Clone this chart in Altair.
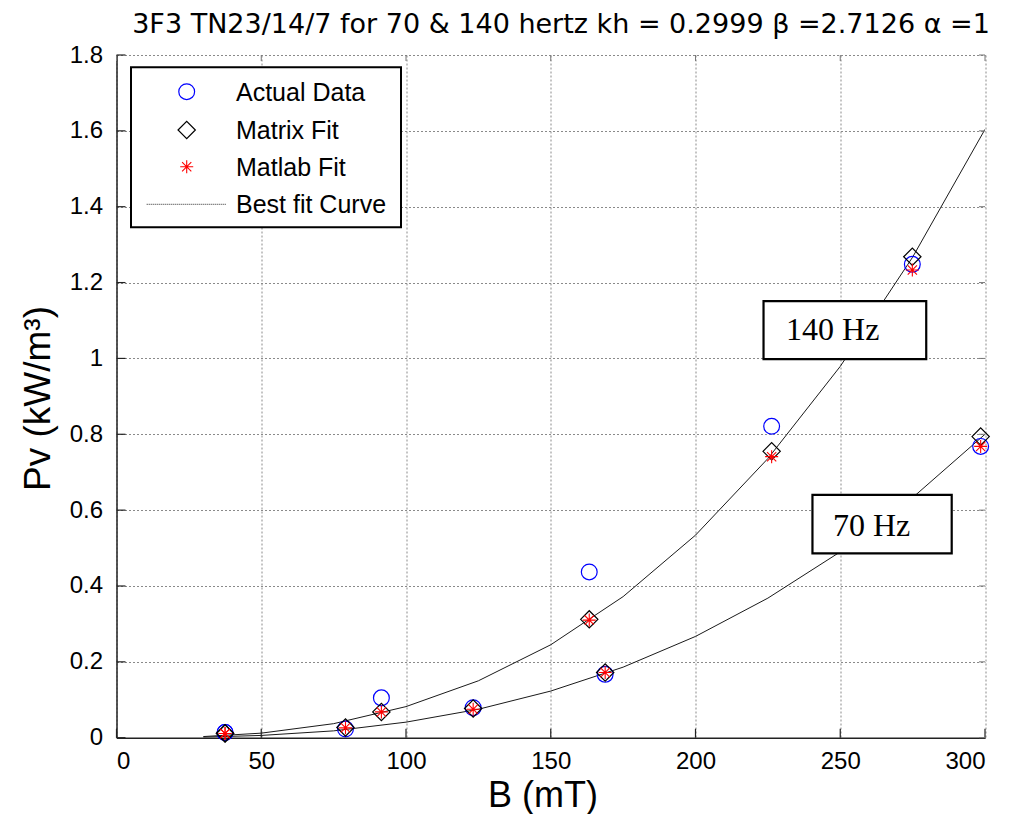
import altair as alt
import pandas as pd

# ---------------- data ----------------
title_text = "3F3 TN23/14/7 for 70 & 140 hertz kh = 0.2999 \u03b2 =2.7126 \u03b1 =1"
x_title = "B (mT)"
y_title = "Pv (kW/m\u00b3)"

# 70 Hz measurements
B_70 = [37.5, 79.1, 123.2, 168.8, 298.5]
actual_70 = [0.014, 0.023, 0.079, 0.167, 0.768]
matrix_70 = [0.011, 0.027, 0.077, 0.172, 0.794]
matlab_70 = [0.011, 0.026, 0.075, 0.172, 0.768]

# 140 Hz measurements
B_140 = [37.5, 91.5, 163.3, 226.3, 274.9]
actual_140 = [0.014, 0.105, 0.437, 0.821, 1.248]
matrix_140 = [0.012, 0.068, 0.312, 0.755, 1.268]
matlab_140 = [0.011, 0.068, 0.310, 0.741, 1.233]

# best-fit curves
curve_B = [30, 50, 75, 100, 125, 150, 175, 200, 225, 250, 275, 300]
curve_140 = [0.003, 0.012, 0.037, 0.082, 0.150, 0.245, 0.372, 0.534, 0.736, 0.979, 1.267, 1.604]
curve_70 = [0.0015, 0.006, 0.018, 0.041, 0.075, 0.123, 0.186, 0.267, 0.368, 0.490, 0.633, 0.800]

x_ticks = [0, 50, 100, 150, 200, 250, 300]
y_ticks = [0, 0.2, 0.4, 0.6, 0.8, 1.0, 1.2, 1.4, 1.6, 1.8]

legend_labels = ["Actual Data", "Matrix Fit", "Matlab Fit", "Best fit Curve"]
annot_labels = ["140 Hz", "70 Hz"]

# ---------------- tables ----------------
actual_df = pd.DataFrame({"B": B_70 + B_140, "P": actual_70 + actual_140})
matrix_df = pd.DataFrame({"B": B_70 + B_140, "P": matrix_70 + matrix_140})
matlab_df = pd.DataFrame({"B": B_70 + B_140, "P": matlab_70 + matlab_140})
curve_df = pd.DataFrame({
    "B": curve_B + curve_B,
    "P": curve_140 + curve_70,
    "f": ["140 Hz"] * len(curve_B) + ["70 Hz"] * len(curve_B),
})

W, H = 868.5, 682.7
SANS = "Liberation Sans"
STAR = "M-1,0L1,0M0,-1L0,1M-0.7071,-0.7071L0.7071,0.7071M-0.7071,0.7071L0.7071,-0.7071"

xs = alt.Scale(domain=[0, 300], nice=False, zero=False)
ys = alt.Scale(domain=[0, 1.8], nice=False, zero=False)

grid_kw = dict(grid=True, gridColor="#8a8a8a", gridDash=[2, 2], gridWidth=1,
               ticks=False, domainColor="#222222", domainWidth=1.5,
               labelFont=SANS, labelFontSize=24, labelColor="black", title=None)
ax_x = alt.Axis(values=x_ticks, labelPadding=12, format="d", **grid_kw)
ax_y = alt.Axis(values=y_ticks, labelPadding=14, format="~g", **grid_kw)

X = alt.X("B:Q", scale=xs, axis=ax_x)
Y = alt.Y("P:Q", scale=ys, axis=ax_y)

curves = alt.Chart(curve_df).mark_line(color="#1a1a1a", strokeWidth=1, clip=True).encode(
    x=X, y=Y, detail="f:N", order="B:Q")

circles = alt.Chart(actual_df).mark_point(shape="circle", size=250, filled=False,
                                          color="#0000ff", strokeWidth=1.2, opacity=1).encode(x=X, y=Y)
diamonds = alt.Chart(matrix_df).mark_point(shape="diamond", size=300, filled=False,
                                           color="black", strokeWidth=1.2, opacity=1).encode(x=X, y=Y)
stars = alt.Chart(matlab_df).mark_point(shape=STAR, size=170, filled=False,
                                        color="#ff0000", strokeWidth=1.1, opacity=1).encode(x=X, y=Y)

# annotation boxes (data coordinates, same scales/axes as the data)
def annot(label, x1, x2, y1, y2, tx, ty):
    d = pd.DataFrame({"t": [label], "B": [x1], "B2": [x2], "P": [y1], "P2": [y2],
                      "tb": [tx], "tp": [ty]})
    box = alt.Chart(d).mark_rect(fill="white", stroke="black", strokeWidth=2.2).encode(
        x=X, x2="B2:Q", y=Y, y2="P2:Q")
    txt = alt.Chart(d).transform_calculate(B="datum.tb", P="datum.tp").mark_text(
        font="Liberation Serif", fontSize=32, align="left", baseline="alphabetic", color="black").encode(
        x=X, y=Y, text="t:N")
    return [box, txt]

ann = annot(annot_labels[0], 223.5, 279.7, 1.151, 0.998, 231.3, 1.048) + \
      annot(annot_labels[1], 240.4, 288.5, 0.640, 0.486, 247.5, 0.532)

# inward ticks
xt = pd.DataFrame({"B": x_ticks})
yt = pd.DataFrame({"P": y_ticks})
tick_color = "#222222"
ticks = [
    alt.Chart(xt).mark_rule(color=tick_color, strokeWidth=1.2).encode(x=X, y=alt.value(H), y2=alt.value(H - 9)),
    alt.Chart(xt).mark_rule(color="#777777", strokeWidth=1).encode(x=X, y=alt.value(0), y2=alt.value(6)),
    alt.Chart(yt).mark_rule(color=tick_color, strokeWidth=1.2).encode(y=Y, x=alt.value(0), x2=alt.value(9)),
    alt.Chart(yt).mark_rule(color="#777777", strokeWidth=1).encode(y=Y, x=alt.value(W), x2=alt.value(W - 6)),
]

# legend
rows = [36.7, 75.0, 111.7, 149.3]
one = pd.DataFrame({"k": [0]})
leg = [
    alt.Chart(one).mark_rect(fill="white", stroke="black", strokeWidth=2).encode(
        x=alt.value(14.5), x2=alt.value(284.5), y=alt.value(12.3), y2=alt.value(172.3)),
    alt.Chart(one).mark_point(shape="circle", size=250, filled=False, color="#0000ff",
                              strokeWidth=1.2, opacity=1).encode(x=alt.value(70.2), y=alt.value(rows[0])),
    alt.Chart(one).mark_point(shape="diamond", size=300, filled=False, color="black",
                              strokeWidth=1.2, opacity=1).encode(x=alt.value(70.2), y=alt.value(rows[1])),
    alt.Chart(one).mark_point(shape=STAR, size=170, filled=False, color="#ff0000",
                              strokeWidth=1.1, opacity=1).encode(x=alt.value(70.2), y=alt.value(rows[2])),
    alt.Chart(one).mark_rule(color="#555555", strokeWidth=1.2, strokeDash=[1, 1]).encode(
        x=alt.value(30.2), x2=alt.value(110.2), y=alt.value(rows[3])),
]
for lab, ry in zip(legend_labels, rows):
    leg.append(alt.Chart(pd.DataFrame({"t": [lab]})).mark_text(
        font=SANS, fontSize=25, align="left", baseline="middle", color="black").encode(
        x=alt.value(119.5), y=alt.value(ry + 1), text="t:N"))

# titles
titles = [
    alt.Chart(pd.DataFrame({"t": [title_text]})).mark_text(
        font="DejaVu Sans", fontSize=27, align="center", baseline="alphabetic", color="black").encode(
        x=alt.value(444.5), y=alt.value(-22.5), text="t:N"),
    alt.Chart(pd.DataFrame({"t": [x_title]})).mark_text(
        font=SANS, fontSize=36, align="center", baseline="alphabetic", color="black").encode(
        x=alt.value(426.5), y=alt.value(752), text="t:N"),
    alt.Chart(pd.DataFrame({"t": [y_title]})).mark_text(
        font=SANS, fontSize=37, align="center", baseline="alphabetic", color="black", angle=270).encode(
        x=alt.value(-66.5), y=alt.value(343.5), text="t:N"),
]

chart = alt.layer(curves, circles, diamonds, stars, *ann, *ticks, *leg, *titles).properties(
    width=W, height=H,
    autosize=alt.AutoSizeParams(type="none"),
    padding={"left": 108.5, "top": 47, "right": 17, "bottom": 76.3},
    background="white",
).configure_view(stroke=None)

chart.save("out.html", embed_options={"renderer": "svg", "actions": False})
